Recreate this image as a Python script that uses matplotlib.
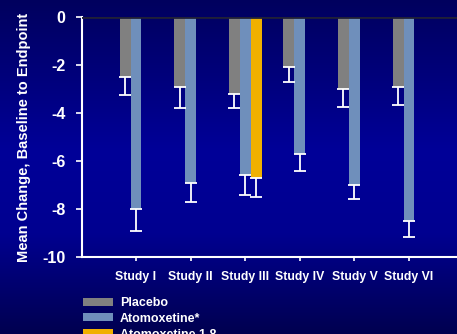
import matplotlib
matplotlib.use('Agg')
import matplotlib.pyplot as plt
import numpy as np
from matplotlib.colors import LinearSegmentedColormap

plt.rcParams['font.family'] = ['Liberation Sans', 'DejaVu Sans']
plt.rcParams['axes.unicode_minus'] = False

studies = ['Study I', 'Study II', 'Study III', 'Study IV', 'Study V', 'Study VI']
placebo = [-2.5, -2.9, -3.2, -2.1, -3.0, -2.9]
placebo_err = [0.75, 0.9, 0.6, 0.6, 0.75, 0.75]
atomox = [-8.0, -6.9, -6.6, -5.7, -7.0, -8.5]
atomox_err = [0.9, 0.8, 0.8, 0.7, 0.6, 0.65]
atomox18 = [-6.7]
atomox18_err = [0.8]
atomox18_pos = [2]

fig = plt.figure(figsize=(4.57, 3.34), dpi=100)

# background gradient
bg = fig.add_axes([0, 0, 1, 1], zorder=-10)
cmap = LinearSegmentedColormap.from_list('bg', [(0, '#00005e'), (0.45, '#000098'), (0.7, '#000090'), (1, '#000050')])
bg.imshow(np.linspace(0, 1, 256).reshape(-1, 1), aspect='auto', cmap=cmap, extent=[0, 1, 0, 1])
bg.axis('off')

ax = fig.add_axes([0.1794, 0.2305, 0.8206, 0.7186])
ax.patch.set_alpha(0)

x = np.arange(len(studies))
w = 0.2
ekw = dict(ecolor='white', elinewidth=1.3, capsize=4, capthick=1.3)
ax.bar(x - w, placebo, w, color='#808080', label='Placebo',
       yerr=[placebo_err, [0] * 6], error_kw=ekw)
ax.bar(x, atomox, w, color='#6f8fbb', label='Atomoxetine*',
       yerr=[atomox_err, [0] * 6], error_kw=ekw)
ax.bar(np.array(atomox18_pos) + w, atomox18, w, color='#f0b000', label='Atomoxetine 1.8',
       yerr=[atomox18_err, [0]], error_kw=ekw)

ax.axhline(0, color='#202038', lw=2, zorder=5)
ax.set_ylim(-10, 0)
ax.set_xlim(-0.99, 5.88)
ax.set_yticks(range(-10, 1, 2))
ax.set_xticks(x)
ax.set_xticklabels(studies)

for s in ['top', 'right']:
    ax.spines[s].set_visible(False)
for s in ['left', 'bottom']:
    ax.spines[s].set_color('white')
    ax.spines[s].set_linewidth(1.5)

ax.tick_params(axis='y', colors='white', labelsize=11.5, length=4, width=1.2, pad=8)
ax.tick_params(axis='x', colors='white', labelsize=8.8, length=3, width=1.2, pad=7)
for lab in ax.get_xticklabels() + ax.get_yticklabels():
    lab.set_fontweight('bold')

ax.set_ylabel('Mean Change, Baseline to Endpoint', color='white', fontsize=10.5,
              fontweight='bold', labelpad=8)

fig.legend(loc='upper left', bbox_to_anchor=(83 / 457, 1 - 297 / 334), frameon=False,
           borderpad=0, borderaxespad=0, handlelength=2.4, handleheight=0.6,
           handletextpad=0.55, labelspacing=0.3,
           prop={'size': 9, 'weight': 'bold'}, labelcolor='white')

fig.savefig('out.png', dpi=100)
